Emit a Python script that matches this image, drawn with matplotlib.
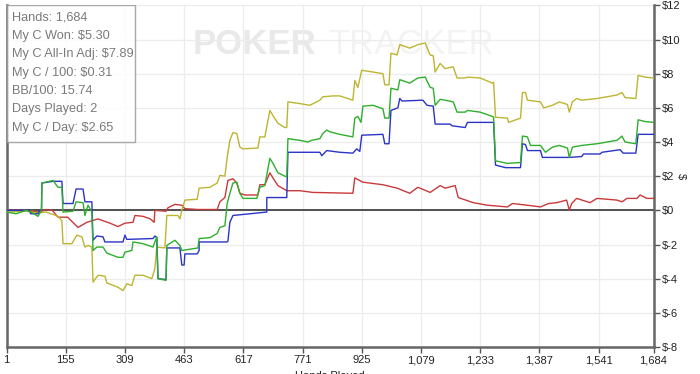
import matplotlib
matplotlib.use("Agg")
import matplotlib.pyplot as plt
from matplotlib.patches import Rectangle

# ---------------- data ----------------
red_hands = [1, 52, 88, 104, 120, 135, 160, 187, 210, 239, 270, 291, 309, 330, 335, 356, 375, 385, 387,
             416, 421, 439, 457, 465, 499, 549, 556, 569, 577, 590, 600, 608, 621, 655, 660, 673, 686,
             694, 707, 730, 764, 798, 902, 907, 928, 980, 1017, 1050, 1071, 1103, 1129, 1142, 1168,
             1176, 1215, 1252, 1304, 1317, 1356, 1390, 1411, 1432, 1458, 1465, 1471, 1484, 1519, 1537,
             1589, 1602, 1615, 1641, 1649, 1667, 1684]
red_vals = [0.0, 0.0, -0.1, 0.05, 0.0, -0.4, -0.4, -1.0, -0.7, -0.5, -0.75, -0.95, -0.75, -0.7, -0.3,
            -0.35, -0.5, -0.7, 0.0, -0.05, 0.15, 0.35, 0.3, 0.1, 0.05, 0.05, 0.5, 0.75, 1.75, 1.85, 1.6,
            1.0, 0.9, 0.9, 1.5, 1.5, 2.2, 1.9, 1.45, 1.15, 1.15, 1.05, 1.0, 1.9, 1.65, 1.5, 1.3, 1.0,
            1.35, 1.05, 1.45, 1.3, 1.45, 0.75, 0.45, 0.3, 0.2, 0.4, 0.3, 0.2, 0.4, 0.45, 0.6, 0.0, 0.4,
            0.7, 0.45, 0.7, 0.6, 0.5, 0.7, 0.7, 0.9, 0.7, 0.7]

blue_hands = [1, 60, 64, 83, 88, 92, 93, 122, 145, 148, 174, 182, 200, 205, 223, 226, 236, 252, 257,
              304, 309, 314, 382, 387, 392, 395, 416, 418, 452, 457, 463, 465, 497, 502, 502, 575, 577,
              582, 590, 634, 678, 678, 730, 733, 816, 821, 834, 868, 902, 912, 920, 925, 980, 985, 996,
              1001, 1019, 1024, 1030, 1084, 1095, 1111, 1116, 1155, 1160, 1194, 1200, 1268, 1273, 1299,
              1338, 1343, 1351, 1356, 1390, 1395, 1465, 1497, 1502, 1545, 1550, 1597, 1605, 1638, 1644,
              1684]
blue_vals = [0.0, 0.0, -0.2, -0.2, 0.0, 0.0, 1.6, 1.7, 1.7, 0.4, 0.4, 1.25, 1.25, 0.5, 0.5, -1.75, -1.5,
             -1.55, -1.85, -1.85, -1.45, -1.7, -1.65, -1.5, -1.6, -4.0, -4.05, -2.2, -2.2, -3.2, -3.2,
             -2.55, -2.55, -2.35, -1.85, -1.85, -1.8, -0.7, -0.3, -0.2, -0.1, 0.75, 0.75, 3.4, 3.4, 3.2,
             3.5, 3.4, 3.35, 3.6, 3.45, 4.4, 4.45, 3.9, 3.9, 5.85, 6.0, 6.55, 6.4, 6.45, 6.15, 6.1, 5.05,
             5.05, 4.95, 4.85, 5.15, 5.15, 2.65, 2.5, 2.5, 3.9, 3.85, 3.5, 3.5, 3.1, 3.1, 3.15, 3.3, 3.3,
             3.4, 3.55, 3.35, 3.35, 4.45, 4.45]

green_hands = [1, 26, 52, 65, 83, 92, 93, 122, 135, 145, 148, 174, 182, 200, 205, 213, 223, 226, 236,
               252, 262, 291, 304, 309, 327, 330, 356, 382, 392, 395, 416, 418, 439, 452, 457, 499, 502,
               530, 549, 556, 569, 575, 582, 590, 600, 608, 616, 652, 660, 673, 686, 694, 707, 730, 733,
               764, 785, 795, 816, 824, 834, 842, 868, 902, 907, 915, 923, 928, 954, 980, 985, 996, 1001,
               1019, 1024, 1050, 1071, 1090, 1103, 1111, 1116, 1129, 1142, 1163, 1173, 1194, 1200, 1233,
               1265, 1268, 1273, 1304, 1338, 1343, 1356, 1364, 1390, 1403, 1421, 1439, 1460, 1465, 1473,
               1497, 1537, 1589, 1602, 1610, 1638, 1644, 1662, 1684]
green_vals = [-0.1, -0.2, 0.0, -0.1, -0.35, 0.0, 1.6, 1.75, 1.35, 1.35, -0.1, -0.05, 0.5, 0.45, -0.3,
              0.3, -0.1, -2.35, -2.15, -2.15, -2.5, -2.75, -2.75, -2.45, -2.35, -1.85, -1.95, -2.15,
              -1.55, -4.0, -4.1, -2.05, -1.75, -2.05, -2.35, -2.2, -1.65, -1.6, -1.35, -1.0, -0.9, 0.4,
              1.0, 1.6, 1.65, 1.0, 0.7, 0.7, 1.35, 1.45, 3.05, 2.75, 2.2, 1.95, 4.2, 4.1, 4.0, 4.1, 4.2,
              4.5, 4.7, 4.6, 4.45, 4.3, 5.4, 5.5, 5.15, 6.1, 6.15, 5.95, 5.4, 5.4, 7.15, 7.05, 7.65,
              7.45, 7.75, 7.8, 7.2, 7.15, 6.15, 6.5, 6.45, 6.35, 5.75, 5.75, 5.85, 5.75, 5.5, 5.45, 2.9,
              2.75, 2.8, 4.35, 4.3, 3.8, 3.8, 3.4, 3.7, 3.8, 3.65, 3.1, 3.7, 3.8, 3.9, 4.1, 4.35, 4.0,
              3.9, 5.3, 5.2, 5.15]

yellow_hands = [1, 52, 83, 104, 117, 135, 145, 148, 171, 184, 197, 205, 213, 223, 226, 239, 257, 262,
                291, 304, 314, 327, 335, 356, 379, 387, 392, 413, 418, 447, 452, 457, 465, 497, 502,
                530, 549, 556, 569, 575, 582, 590, 600, 608, 616, 655, 660, 673, 686, 694, 707, 725,
                730, 733, 764, 790, 816, 824, 850, 868, 902, 907, 915, 925, 954, 980, 985, 996, 1001,
                1017, 1024, 1050, 1071, 1090, 1103, 1111, 1116, 1129, 1142, 1163, 1173, 1194, 1200,
                1233, 1265, 1268, 1273, 1304, 1307, 1338, 1343, 1351, 1356, 1390, 1398, 1421, 1439,
                1460, 1465, 1473, 1484, 1497, 1537, 1589, 1602, 1610, 1638, 1644, 1662, 1684]
yellow_vals = [-0.1, -0.05, -0.15, -0.1, -0.2, -0.35, -0.6, -1.95, -1.95, -1.45, -1.55, -2.15, -2.05,
               -2.15, -4.2, -3.8, -3.85, -4.25, -4.5, -4.7, -4.3, -4.4, -3.8, -3.8, -4.0, -3.4, -2.15,
               -2.2, -0.3, -0.3, -0.5, 0.0, 0.6, 0.65, 1.3, 1.35, 1.6, 2.05, 2.0, 3.1, 4.1, 4.55, 4.5,
               3.7, 3.6, 3.65, 4.3, 4.3, 5.85, 5.55, 5.1, 4.85, 4.85, 6.35, 6.25, 6.15, 6.45, 6.65, 6.7,
               6.7, 6.45, 7.6, 7.2, 8.2, 8.1, 8.0, 7.35, 7.35, 9.2, 9.1, 9.7, 9.5, 9.7, 9.8, 9.1, 9.05,
               8.1, 8.6, 8.3, 8.4, 7.75, 7.75, 7.8, 7.75, 7.45, 7.5, 5.45, 5.4, 5.15, 5.4, 6.9, 6.9,
               6.45, 6.35, 6.0, 6.15, 6.35, 6.2, 5.75, 6.35, 6.55, 6.45, 6.55, 6.75, 6.9, 6.6, 6.55,
               7.9, 7.8, 7.75]

x_ticks = [1, 155, 309, 463, 617, 771, 925, 1079, 1233, 1387, 1541, 1684]
x_tick_labels = ["1", "155", "309", "463", "617", "771", "925", "1,079", "1,233", "1,387", "1,541", "1,684"]
y_ticks = [-8, -6, -4, -2, 0, 2, 4, 6, 8, 10, 12]
y_tick_labels = ["$-8", "$-6", "$-4", "$-2", "$0", "$2", "$4", "$6", "$8", "$10", "$12"]

stats_lines = ["Hands: 1,684", "My C Won: $5.30", "My C All-In Adj: $7.89", "My C / 100: $0.31",
               "BB/100: 15.74", "Days Played: 2", "My C / Day: $2.65"]

# ---------------- plot ----------------
plt.rcParams['font.family'] = ['Liberation Sans', 'DejaVu Sans']
plt.rcParams['axes.unicode_minus'] = False
narrow = ['Liberation Sans Narrow', 'Liberation Sans', 'DejaVu Sans']

fig = plt.figure(figsize=(7.0, 3.74), dpi=100)
ax = fig.add_axes([0.0093, 0.0722, 0.9243, 0.9134])
ax.set_xlim(1, 1684)
ax.set_ylim(-8, 12)

# watermark
ax.text(0.288, 0.885, "POKER", transform=ax.transAxes, fontsize=25, fontweight='bold',
        color='#e9e9e9', ha='left', va='center', zorder=0)
ax.text(0.497, 0.885, "TRACKER", transform=ax.transAxes, fontsize=25,
        color='#f3f3f3', ha='left', va='center', zorder=0)

ax.set_xticks(x_ticks)
ax.set_xticklabels(x_tick_labels, family=narrow)
ax.set_yticks(y_ticks)
ax.set_yticklabels(y_tick_labels, family=narrow)
ax.grid(True, color='#ececec', linewidth=0.9, zorder=0)
ax.set_axisbelow(True)

ax.axhline(0, color='#444444', linewidth=1.3, zorder=2)

ax.plot(red_hands, red_vals, color='#c83a3a', linewidth=1.0, zorder=3)
ax.plot(yellow_hands, yellow_vals, color='#bdb531', linewidth=1.0, zorder=3)
ax.plot(green_hands, green_vals, color='#2eaf2e', linewidth=1.0, zorder=4)
ax.plot(blue_hands, blue_vals, color='#2b34c4', linewidth=1.0, zorder=3.5)

for side in ['left', 'bottom', 'right']:
    ax.spines[side].set_color('#666666')
    ax.spines[side].set_linewidth(1.8)
ax.spines['top'].set_visible(False)

ax.yaxis.tick_right()
ax.yaxis.set_label_position('right')
ax.tick_params(axis='y', direction='out', length=4, width=1, colors='#555555',
               labelcolor='#222222', labelsize=8, pad=2)
ax.tick_params(axis='x', direction='out', length=4, width=1, colors='#555555',
               labelcolor='#222222', labelsize=8, pad=2)
ax.set_ylabel("$", fontsize=8, rotation=270, labelpad=4, color='#222222', family=narrow)
ax.set_xlabel("Hands Played", fontsize=8, color='#222222', labelpad=4, family=narrow)

# stats box
box_w = (135 - 6.5) / (653.5 - 6.5)
box_h = (142 - 5.4) / (347 - 5.4)
ax.add_patch(Rectangle((0, 1 - box_h), box_w, box_h, transform=ax.transAxes,
                       facecolor='white', edgecolor='#9a9a9a', linewidth=1.0, alpha=0.85, zorder=6))
for i, line in enumerate(stats_lines):
    ax.text(0.008, 1 - (12.5 + 18.3 * i) / 341.6, line, transform=ax.transAxes, fontsize=9.2,
            color='#7a7a7a', ha='left', va='center', zorder=7)

fig.savefig("out.png", dpi=100)
